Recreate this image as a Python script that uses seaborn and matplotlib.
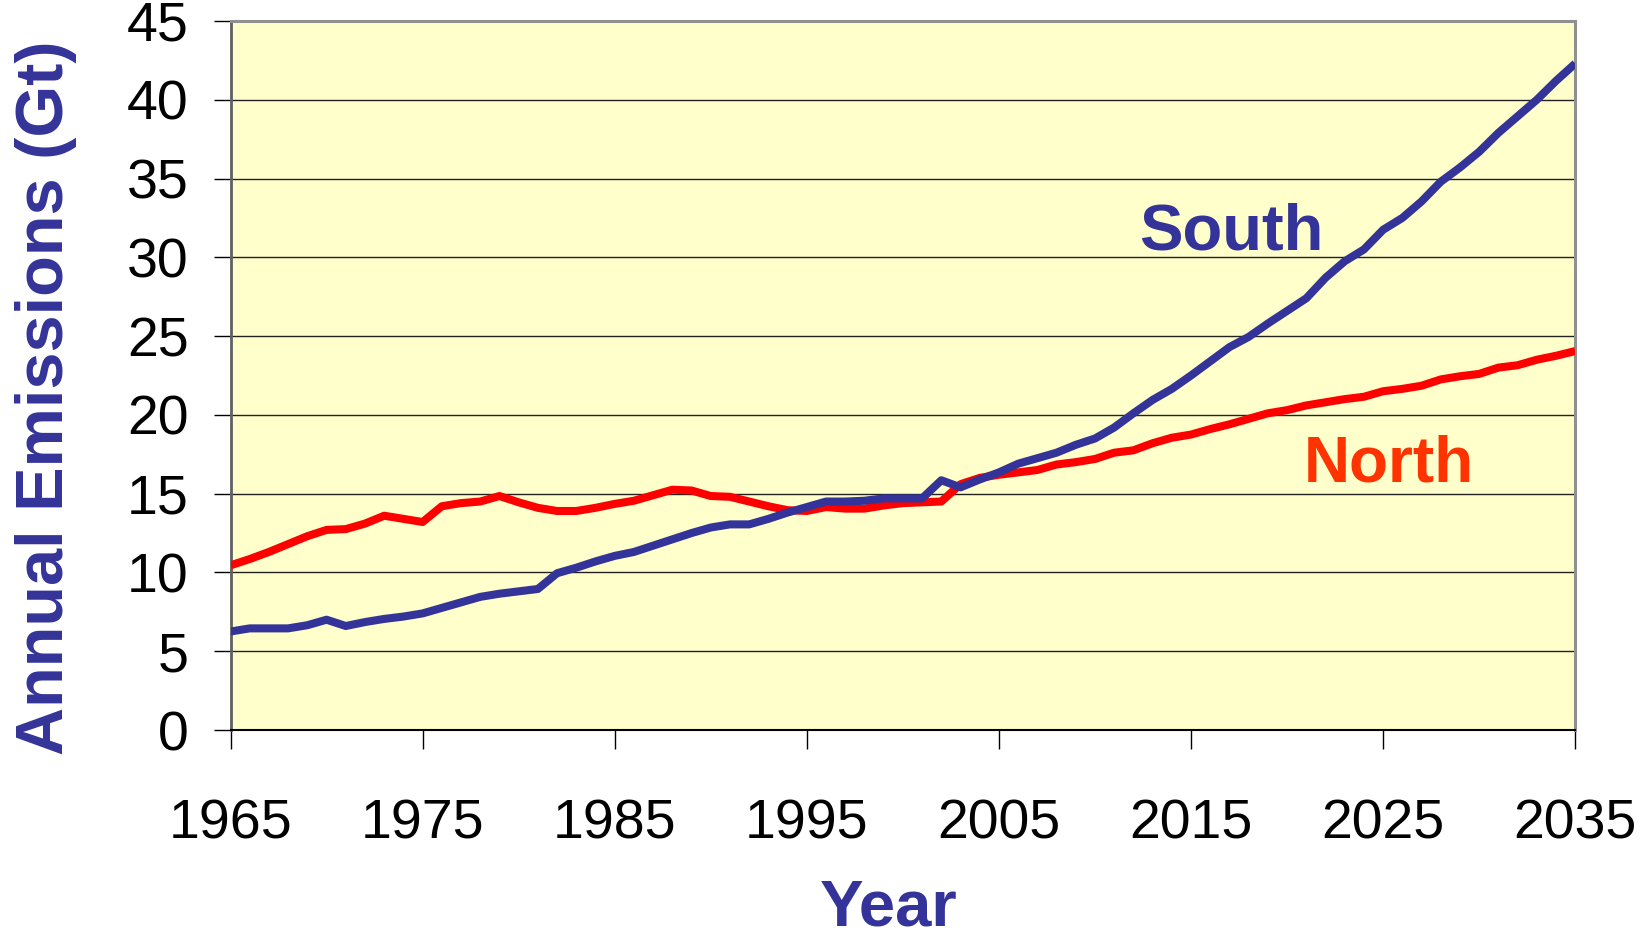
"""
南北排放对比图 (1965-2035)
"""

import pandas as pd
import matplotlib
matplotlib.use('Agg')
import matplotlib.pyplot as plt
import seaborn as sns

sns.set_style("white")
plt.rcParams['font.family'] = ['Liberation Sans', 'DejaVu Sans']

# ── 数据 ────────────────────────────────────────────
years = list(range(1965, 2036))

north = [10.45, 10.85, 11.3, 11.8, 12.3, 12.7, 12.75, 13.1, 13.6, 13.4,
         13.2, 14.2, 14.4, 14.5, 14.85, 14.45, 14.1, 13.9, 13.9, 14.1,
         14.35, 14.55, 14.9, 15.25, 15.2, 14.85, 14.8, 14.5, 14.2, 13.95,
         13.9, 14.15, 14.05, 14.05, 14.25, 14.4, 14.45, 14.5, 15.6, 16.0,
         16.2, 16.35, 16.5, 16.85, 17.0, 17.2, 17.6, 17.75, 18.2, 18.55,
         18.75, 19.1, 19.4, 19.75, 20.1, 20.3, 20.6, 20.8, 21.0, 21.15,
         21.5, 21.65, 21.85, 22.25, 22.45, 22.6, 23.0, 23.15, 23.5, 23.75,
         24.05]

south = [6.25, 6.45, 6.45, 6.45, 6.65, 7.0, 6.6, 6.85, 7.05, 7.2,
         7.4, 7.75, 8.1, 8.45, 8.65, 8.8, 8.95, 9.95, 10.3, 10.7,
         11.05, 11.3, 11.7, 12.1, 12.5, 12.85, 13.05, 13.05, 13.4, 13.8,
         14.15, 14.5, 14.5, 14.55, 14.7, 14.7, 14.7, 15.85, 15.4, 15.9,
         16.35, 16.9, 17.25, 17.6, 18.1, 18.5, 19.2, 20.1, 20.95, 21.65,
         22.5, 23.4, 24.3, 24.95, 25.8, 26.6, 27.4, 28.7, 29.75, 30.5,
         31.75, 32.5, 33.55, 34.8, 35.7, 36.7, 37.9, 38.95, 40.0, 41.2,
         42.3]

x_ticks = [1965, 1975, 1985, 1995, 2005, 2015, 2025, 2035]
y_ticks = list(range(0, 50, 5))

BLUE = '#333399'
RED = '#FF0000'
ORANGE = '#FF3300'

df = pd.DataFrame({'year': years * 2,
                   'emissions': north + south,
                   'region': ['North'] * len(years) + ['South'] * len(years)})

# ── 画图 ────────────────────────────────────────────
fig = plt.figure(figsize=(16.5, 9.4), dpi=100)
ax = fig.add_axes([0.1397, 0.2234, 0.815, 0.7543])
ax.set_facecolor('#FFFFCC')

sns.lineplot(data=df, x='year', y='emissions', hue='region',
             palette={'North': RED, 'South': BLUE}, linewidth=5.8,
             legend=False, ax=ax, zorder=3)
for ln in ax.lines:
    ln.set_solid_joinstyle('round')
    ln.set_solid_capstyle('butt')

ax.set_xlim(1965, 2035)
ax.set_ylim(0, 45)
ax.set_xticks(x_ticks)
ax.set_yticks(y_ticks)
ax.yaxis.grid(True, color='#222222', linewidth=1.0)
ax.xaxis.grid(False)
ax.set_axisbelow(True)

ax.tick_params(axis='y', direction='out', length=12, width=1, pad=18,
               labelsize=40, colors='black', left=True)
ax.tick_params(axis='x', direction='out', length=14, width=1, pad=35,
               labelsize=40, colors='black', bottom=True)

ax.spines['bottom'].set_color('black')
ax.spines['bottom'].set_linewidth(1.5)
ax.spines['left'].set_color('#606060')
ax.spines['left'].set_linewidth(2)
for s in ['top', 'right']:
    ax.spines[s].set_color('#909090')
    ax.spines[s].set_linewidth(2.2)

ax.set_xlabel('')
ax.set_ylabel('')

# 系列标注
ax.text(2017.1, 30.5, 'South', color=BLUE, fontsize=47, fontweight='bold',
        ha='center', va='baseline')
ax.text(2025.3, 15.75, 'North', color=ORANGE, fontsize=46, fontweight='bold',
        ha='center', va='baseline')

# 坐标轴标题
fig.text(46 / 1650, 1 - 398 / 940, 'Annual Emissions (Gt)', rotation=90,
         color=BLUE, fontsize=48, fontweight='bold', ha='center', va='center')
fig.text(889 / 1650, 1 - 926 / 940, 'Year', color=BLUE, fontsize=47,
         fontweight='bold', ha='center', va='baseline')

fig.savefig('out.png', dpi=100)
plt.close()
